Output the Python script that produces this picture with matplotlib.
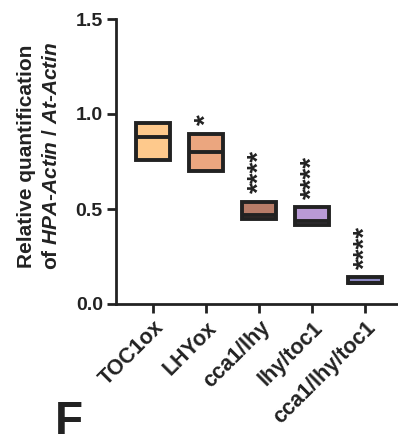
import numpy as np
import matplotlib
matplotlib.use("Agg")
import matplotlib.pyplot as plt

plt.rcParams['font.family'] = ['Liberation Sans', 'DejaVu Sans']
plt.rcParams['font.weight'] = 'bold'
plt.rcParams['mathtext.fontset'] = 'custom'
plt.rcParams['mathtext.rm'] = 'Liberation Sans:bold'
plt.rcParams['mathtext.it'] = 'Liberation Sans:italic:bold'

# data (min / median / max of each genotype)
genotypes = ["TOC1ox", "LHYox", "cca1/lhy", "lhy/toc1", "cca1/lhy/toc1"]
mins = [0.757, 0.699, 0.450, 0.418, 0.112]
medians = [0.880, 0.798, 0.468, 0.437, 0.112]
maxs = [0.952, 0.896, 0.539, 0.508, 0.141]
stars = ["", "*", "****", "****", "****"]
colors = ["#fec98c", "#eba67f", "#b77c68", "#b99ad6", "#8a86c0"]

ink = "#222222"
fig = plt.figure(figsize=(3.98, 4.37), dpi=100)
ax = fig.add_axes([116/398, 133/437, 1 - 116/398, (304-19)/437])

x = np.arange(len(genotypes))
w = 0.636
ax.bar(x, np.array(maxs) - np.array(mins), bottom=mins, width=w,
       color=colors, edgecolor=ink, linewidth=2.8, zorder=3)
ax.hlines(medians, x - w/2, x + w/2, color=ink, linewidth=2.8, zorder=4)

for xi, top, s in zip(x, maxs, stars):
    if s:
        ax.text(xi, top + 0.045, s, rotation=90, ha='center', va='bottom',
                fontsize=20, color=ink, zorder=5)

ax.set_xlim(-0.7, 4.62)
ax.set_ylim(0, 1.5)
ax.set_yticks([0, 0.5, 1.0, 1.5])
ax.set_yticklabels(["0.0", "0.5", "1.0", "1.5"])
ax.set_xticks(x)
ax.set_xticklabels(genotypes, rotation=45, ha='right', rotation_mode='anchor')

for side in ['top', 'right']:
    ax.spines[side].set_visible(False)
for side in ['left', 'bottom']:
    ax.spines[side].set_linewidth(2.0)
    ax.spines[side].set_color(ink)
ax.tick_params(axis='both', length=6.5, width=2.0, color=ink, labelcolor=ink)
ax.tick_params(axis='y', labelsize=14, pad=3)
ax.tick_params(axis='x', labelsize=15.5, pad=3)

fig.text(39/398, (437-156)/437,
         "Relative quantification\nof $\\mathit{HPA}$-$\\mathit{Actin}$ / $\\mathit{At}$-$\\mathit{Actin}$",
         rotation=90, ha='center', va='center', multialignment='center',
         fontsize=15, color=ink, linespacing=1.4)

fig.text(55/398, 3/437, "F", fontsize=33, fontweight='bold', color=ink,
         ha='left', va='baseline')

fig.savefig("out.png", dpi=100)
